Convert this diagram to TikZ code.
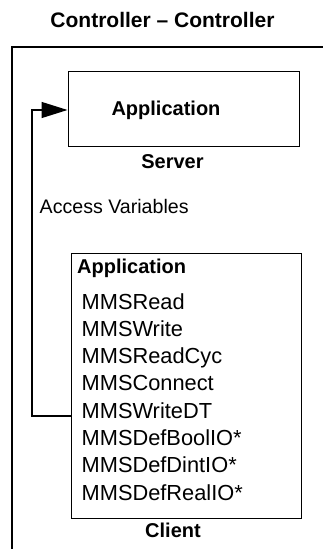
\documentclass[tikz,border=0pt]{standalone}
\usepackage{fontspec}
\setmainfont{Liberation Sans}
\usetikzlibrary{arrows.meta}
\begin{document}
\begin{tikzpicture}[x=1pt,y=-1pt,
  ln/.style={line width=1.4pt},
  boxstyle/.style={draw,line width=1.4pt,inner sep=0pt,anchor=north west},
  boldtxt/.style={font=\bfseries\fontsize{20}{24}\selectfont,inner sep=0pt},
  titletxt/.style={font=\bfseries\fontsize{21}{25}\selectfont,inner sep=0pt},
  midtxt/.style={font=\fontsize{19.6}{24}\selectfont,inner sep=0pt},
  listtxt/.style={font=\fontsize{21.8}{26}\selectfont,inner sep=0pt,anchor=base west},
  arrowtip/.style={-{Triangle[length=26pt,width=16pt]}}]
\useasboundingbox (0,0) rectangle (322,549);
% title
\node[titletxt,anchor=base] (title) at (162.5,27) {Controller – Controller};
% outer frame
\coordinate (fb) at (12,549);
\coordinate (ft) at (12,47);
\coordinate (fr) at (323,47);
\draw[ln] (fb) -- (ft) -- (fr);
% server box
\node[boxstyle,minimum width=231pt,minimum height=75pt] (server) at (67.5,71) {};
\node[boldtxt,anchor=base] (sapp) at (166,115) {Application};
\node[boldtxt,anchor=base] (slabel) at (172.5,168) {Server};
% access variables
\node[midtxt,anchor=base west] (access) at (39.5,213) {Access Variables};
% client box
\node[boxstyle,minimum width=230pt,minimum height=265pt] (client) at (71,253) {};
\node[boldtxt,anchor=base west] (capp) at (77,273) {Application};
\node[listtxt] (l1) at (81.5,309) {MMSRead};
\node[listtxt] (l2) at (81.5,336.3) {MMSWrite};
\node[listtxt] (l3) at (81.5,363.6) {MMSReadCyc};
\node[listtxt] (l4) at (81.5,390.9) {MMSConnect};
\node[listtxt] (l5) at (81.5,418.2) {MMSWriteDT};
\node[listtxt] (l6) at (81.5,445.5) {MMSDefBoolIO*};
\node[listtxt] (l7) at (81.5,472.8) {MMSDefDintIO*};
\node[listtxt] (l8) at (81.5,500.1) {MMSDefRealIO*};
\node[boldtxt,anchor=base] (clabel) at (173,537) {Client};
% connector
\coordinate (cstart) at (71,416);
\coordinate (sin) at (67.5,110);
\draw[ln,arrowtip] (cstart) -- (32,416) -- (32,110) -- (sin);
\end{tikzpicture}
\end{document}
